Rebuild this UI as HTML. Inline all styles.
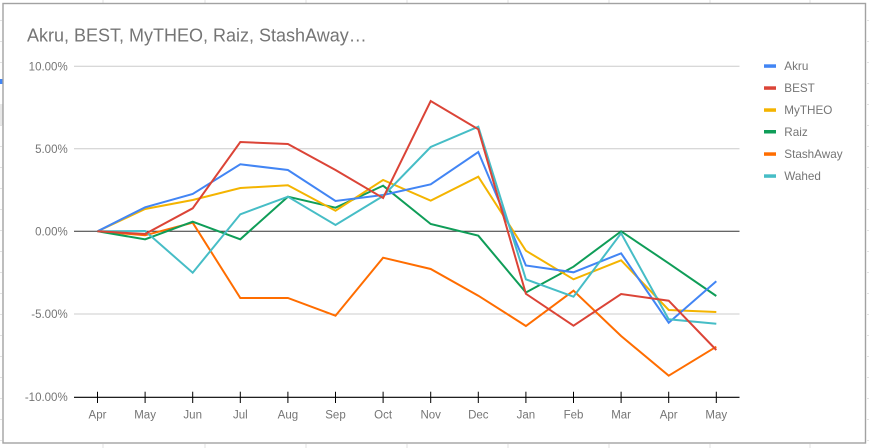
<!DOCTYPE html>
<html><head><meta charset="utf-8"><style>
html,body{margin:0;padding:0;background:#fff;}
svg{display:block;}
text{font-family:"Liberation Sans",Arial,sans-serif;}
</style></head><body>
<svg width="869" height="448" viewBox="0 0 869 448" xmlns="http://www.w3.org/2000/svg">
<rect x="0" y="0" width="869" height="448" fill="#fff"/>
<!-- spreadsheet grid outside -->
<g stroke="#e2e2e2" stroke-width="1">
<line x1="103" y1="0" x2="103" y2="3"/><line x1="205" y1="0" x2="205" y2="3"/><line x1="306" y1="0" x2="306" y2="3"/><line x1="407" y1="0" x2="407" y2="3"/><line x1="508" y1="0" x2="508" y2="3"/><line x1="609" y1="0" x2="609" y2="3"/><line x1="710" y1="0" x2="710" y2="3"/><line x1="810" y1="0" x2="810" y2="3"/>
<line x1="103" y1="444" x2="103" y2="448"/><line x1="205" y1="444" x2="205" y2="448"/><line x1="306" y1="444" x2="306" y2="448"/><line x1="407" y1="444" x2="407" y2="448"/><line x1="508" y1="444" x2="508" y2="448"/><line x1="609" y1="444" x2="609" y2="448"/><line x1="710" y1="444" x2="710" y2="448"/><line x1="810" y1="444" x2="810" y2="448"/>
</g>
<g stroke="#e2e2e2" stroke-width="1">
<line x1="0" y1="20.5" x2="2" y2="20.5"/><line x1="0" y1="41.5" x2="2" y2="41.5"/><line x1="0" y1="62.5" x2="2" y2="62.5"/><line x1="0" y1="104.5" x2="2" y2="104.5"/><line x1="0" y1="125.5" x2="2" y2="125.5"/><line x1="0" y1="146.5" x2="2" y2="146.5"/><line x1="0" y1="167.5" x2="2" y2="167.5"/><line x1="0" y1="188.5" x2="2" y2="188.5"/><line x1="0" y1="209.5" x2="2" y2="209.5"/><line x1="0" y1="230.5" x2="2" y2="230.5"/><line x1="0" y1="251.5" x2="2" y2="251.5"/><line x1="0" y1="272.5" x2="2" y2="272.5"/><line x1="0" y1="293.5" x2="2" y2="293.5"/><line x1="0" y1="314.5" x2="2" y2="314.5"/><line x1="0" y1="335.5" x2="2" y2="335.5"/><line x1="0" y1="356.5" x2="2" y2="356.5"/><line x1="0" y1="377.5" x2="2" y2="377.5"/><line x1="0" y1="398.5" x2="2" y2="398.5"/><line x1="0" y1="419.5" x2="2" y2="419.5"/><line x1="0" y1="440.5" x2="2" y2="440.5"/>
<line x1="867" y1="20.5" x2="869" y2="20.5"/><line x1="867" y1="41.5" x2="869" y2="41.5"/><line x1="867" y1="62.5" x2="869" y2="62.5"/><line x1="867" y1="83.5" x2="869" y2="83.5"/><line x1="867" y1="104.5" x2="869" y2="104.5"/><line x1="867" y1="125.5" x2="869" y2="125.5"/><line x1="867" y1="146.5" x2="869" y2="146.5"/><line x1="867" y1="167.5" x2="869" y2="167.5"/><line x1="867" y1="188.5" x2="869" y2="188.5"/><line x1="867" y1="209.5" x2="869" y2="209.5"/><line x1="867" y1="230.5" x2="869" y2="230.5"/><line x1="867" y1="251.5" x2="869" y2="251.5"/><line x1="867" y1="272.5" x2="869" y2="272.5"/><line x1="867" y1="293.5" x2="869" y2="293.5"/><line x1="867" y1="314.5" x2="869" y2="314.5"/><line x1="867" y1="335.5" x2="869" y2="335.5"/><line x1="867" y1="356.5" x2="869" y2="356.5"/><line x1="867" y1="377.5" x2="869" y2="377.5"/><line x1="867" y1="398.5" x2="869" y2="398.5"/><line x1="867" y1="419.5" x2="869" y2="419.5"/><line x1="867" y1="440.5" x2="869" y2="440.5"/>
</g>
<rect x="0" y="79" width="2.5" height="5" fill="#4285f4"/>
<rect x="0" y="104" width="2.5" height="21" fill="#e8e8e8"/>
<!-- chart frame -->
<rect x="3" y="3.5" width="862.5" height="439.5" fill="#fff" stroke="#a2a2a2" stroke-width="1.4"/>
<!-- title -->
<text x="27" y="41.5" font-size="18" fill="#757575">Akru, BEST, MyTHEO, Raiz, StashAway…</text>
<!-- gridlines -->
<g stroke="#cccccc" stroke-width="1">
<line x1="74" y1="66.3" x2="739.5" y2="66.3"/>
<line x1="74" y1="148.8" x2="739.5" y2="148.8"/>
<line x1="74" y1="314" x2="739.5" y2="314"/>
</g>
<line x1="74" y1="231.3" x2="739.5" y2="231.3" stroke="#333" stroke-width="1"/>
<!-- y labels -->
<g font-size="11.5" fill="#757575" text-anchor="end">
<text x="67.7" y="70.4">10.00%</text>
<text x="67.7" y="152.9">5.00%</text>
<text x="67.7" y="235.4">0.00%</text>
<text x="67.7" y="318.1">-5.00%</text>
<text x="67.7" y="401.2">-10.00%</text>
</g>
<!-- series -->
<g fill="none" stroke-width="2" stroke-linejoin="miter">
<polyline stroke="#ff6d00" points="97.5,231.3 145.1,235.3 192.7,222.7 240.3,298 287.9,298 335.5,315.7 383.1,257.7 430.7,269 478.3,295.7 525.9,326 573.5,290.7 621.1,336 668.7,375.7 716.3,346.7"/>
<polyline stroke="#0f9d58" points="97.5,231.3 145.1,239.3 192.7,221.7 240.3,239.3 287.9,196.7 335.5,207.7 383.1,185.7 430.7,224 478.3,235.7 525.9,292.5 573.5,266.7 621.1,231.3 668.7,263.3 716.3,296"/>
<polyline stroke="#f4b400" points="97.5,231.3 145.1,209 192.7,200 240.3,188 287.9,185.3 335.5,210.7 383.1,180 430.7,200.7 478.3,176.7 525.9,250.7 573.5,279.3 621.1,260.3 668.7,310 716.3,312"/>
<polyline stroke="#4285f4" points="97.5,231.3 145.1,207.3 192.7,194 240.3,164.3 287.9,170 335.5,201 383.1,195 430.7,184.3 478.3,152 525.9,265.5 573.5,272.3 621.1,253.3 668.7,322.7 716.3,281.3"/>
<polyline stroke="#46bdc6" points="97.5,231.3 145.1,231 192.7,272.7 240.3,214.3 287.9,196.7 335.5,225 383.1,196 430.7,147 478.3,126.7 525.9,279.3 573.5,296.7 621.1,233.3 668.7,319.3 716.3,323.7"/>
<polyline stroke="#db4437" points="97.5,231.3 145.1,234 192.7,208.3 240.3,142 287.9,144 335.5,170 383.1,198 430.7,101 478.3,129.3 525.9,293.8 573.5,325.7 621.1,294 668.7,300.7 716.3,350"/>
</g>
<!-- x axis -->
<line x1="74" y1="397.3" x2="739.5" y2="397.3" stroke="#000" stroke-width="1.2"/>
<g stroke="#000" stroke-width="1">
<line x1="97.5" y1="391.7" x2="97.5" y2="403"/><line x1="145.1" y1="391.7" x2="145.1" y2="403"/><line x1="192.7" y1="391.7" x2="192.7" y2="403"/><line x1="240.3" y1="391.7" x2="240.3" y2="403"/><line x1="287.9" y1="391.7" x2="287.9" y2="403"/><line x1="335.5" y1="391.7" x2="335.5" y2="403"/><line x1="383.1" y1="391.7" x2="383.1" y2="403"/><line x1="430.7" y1="391.7" x2="430.7" y2="403"/><line x1="478.3" y1="391.7" x2="478.3" y2="403"/><line x1="525.9" y1="391.7" x2="525.9" y2="403"/><line x1="573.5" y1="391.7" x2="573.5" y2="403"/><line x1="621.1" y1="391.7" x2="621.1" y2="403"/><line x1="668.7" y1="391.7" x2="668.7" y2="403"/><line x1="716.3" y1="391.7" x2="716.3" y2="403"/>
</g>
<g font-size="11.5" fill="#757575" text-anchor="middle">
<text x="97.5" y="418.5">Apr</text><text x="145.1" y="418.5">May</text><text x="192.7" y="418.5">Jun</text><text x="240.3" y="418.5">Jul</text><text x="287.9" y="418.5">Aug</text><text x="335.5" y="418.5">Sep</text><text x="383.1" y="418.5">Oct</text><text x="430.7" y="418.5">Nov</text><text x="478.3" y="418.5">Dec</text><text x="525.9" y="418.5">Jan</text><text x="573.5" y="418.5">Feb</text><text x="621.1" y="418.5">Mar</text><text x="668.7" y="418.5">Apr</text><text x="716.3" y="418.5">May</text>
</g>
<!-- legend -->
<g>
<rect x="764" y="64.3" width="12" height="3.5" fill="#4285f4"/>
<rect x="764" y="86.3" width="12" height="3.5" fill="#db4437"/>
<rect x="764" y="108.3" width="12" height="3.5" fill="#f4b400"/>
<rect x="764" y="130" width="12" height="3.5" fill="#0f9d58"/>
<rect x="764" y="152.3" width="12" height="3.5" fill="#ff6d00"/>
<rect x="764" y="174.3" width="12" height="3.5" fill="#46bdc6"/>
</g>
<g font-size="11.7" fill="#757575">
<text x="784.3" y="70.2">Akru</text>
<text x="784.3" y="92.2">BEST</text>
<text x="784.3" y="114.2">MyTHEO</text>
<text x="784.3" y="135.9">Raiz</text>
<text x="784.3" y="158.2">StashAway</text>
<text x="784.3" y="180.2">Wahed</text>
</g>
</svg>
</body></html>
